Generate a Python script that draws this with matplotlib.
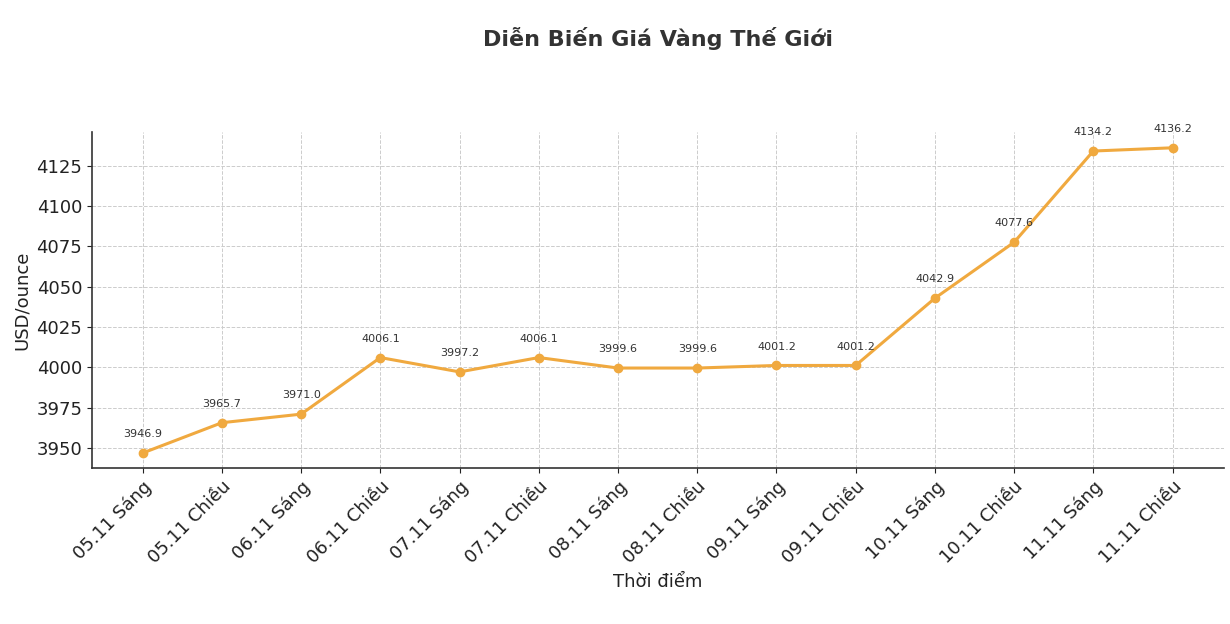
import matplotlib
matplotlib.use("Agg")
import matplotlib.pyplot as plt

labels = ["05.11 Sáng", "05.11 Chiều", "06.11 Sáng", "06.11 Chiều", "07.11 Sáng",
          "07.11 Chiều", "08.11 Sáng", "08.11 Chiều", "09.11 Sáng", "09.11 Chiều",
          "10.11 Sáng", "10.11 Chiều", "11.11 Sáng", "11.11 Chiều"]
prices = [3946.9, 3965.7, 3971.0, 4006.1, 3997.2, 4006.1, 3999.6, 3999.6,
          4001.2, 4001.2, 4042.9, 4077.6, 4134.2, 4136.2]
yticks = [3950, 3975, 4000, 4025, 4050, 4075, 4100, 4125]

plt.rcParams['font.family'] = ['DejaVu Sans']
fig = plt.figure(figsize=(12.3, 6.24), dpi=100)
ax = fig.add_axes([92 / 1230, 1 - 468 / 624, (1224 - 92) / 1230, (468 - 132) / 624])

x = list(range(len(labels)))
color = "#F0A93F"
ax.plot(x, prices, color=color, lw=2.2, marker="o", ms=6)
for xi, p in zip(x, prices):
    ax.annotate(f"{p:.1f}", (xi, p), xytext=(0, 10), textcoords="offset points",
                ha="center", va="bottom", fontsize=8, color="#333333")

ax.set_xlim(-0.64, 13.65)
ax.set_ylim(3937.6, 4146)
ax.set_yticks(yticks)
ax.set_yticklabels([str(v) for v in yticks], fontsize=13)
ax.set_xticks(x)
ax.set_xticklabels(labels, rotation=45, ha="right", rotation_mode="anchor", fontsize=13)
ax.grid(True, linestyle="--", color="#cccccc", lw=0.7)
ax.set_axisbelow(True)
for s in ["top", "right"]:
    ax.spines[s].set_visible(False)
for s in ["left", "bottom"]:
    ax.spines[s].set_color("#333333")
    ax.spines[s].set_linewidth(1.2)
ax.tick_params(colors="#222222")
ax.set_xlabel("Thời điểm", fontsize=13, color="#222222")
ax.set_ylabel("USD/ounce", fontsize=13, color="#222222")
fig.text(658 / 1230, 1 - 38 / 624, "Diễn Biến Giá Vàng Thế Giới", ha="center", va="center",
         fontsize=16, fontweight="bold", color="#333333")

fig.savefig("out.png", dpi=100)
